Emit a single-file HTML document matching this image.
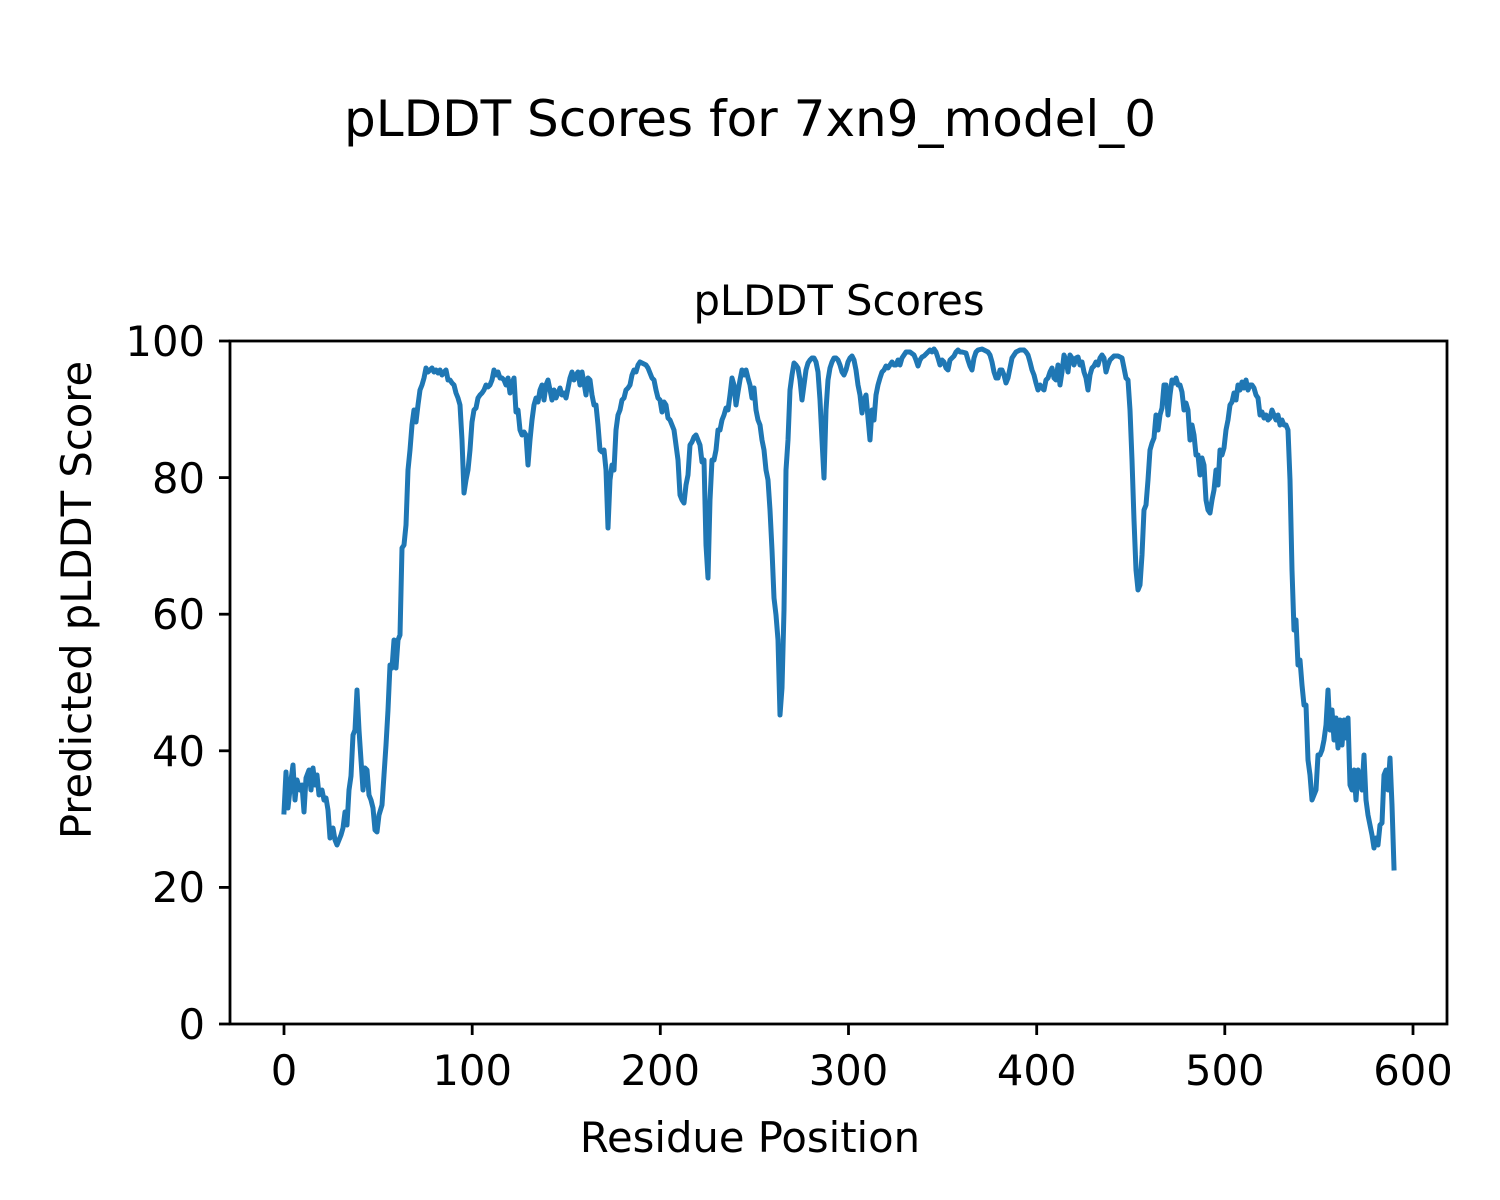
<!DOCTYPE html>
<html><head><meta charset="utf-8"><style>
html,body{margin:0;padding:0;background:#fff;}
svg{display:block;font-family:"DejaVu Sans","Liberation Sans",sans-serif;}
</style></head><body>
<svg width="1500" height="1200" viewBox="0 0 1500 1200" xmlns="http://www.w3.org/2000/svg">
<rect width="1500" height="1200" fill="#fff"/>
<text x="750" y="136" font-size="50" text-anchor="middle">pLDDT Scores for 7xn9_model_0</text>
<text x="839" y="315" font-size="41.7" text-anchor="middle">pLDDT Scores</text>
<polyline fill="none" stroke="#1f77b4" stroke-width="5" stroke-linejoin="round" stroke-linecap="square" points="284,812 286,772 288,808 291,780 293,765 295,800 297,780 300,790 302,785 304,812 306,778 309,770 311,790 313,768 315,785 317,775 319,795 322,790 324,800 326,798 328,810 330,838 333,828 335,840 337,845 339,840 341,835 343,828 345,812 347,825 349,790 351,776 353,735 355,730 357,690 359,730 361,760 363,790 365,768 367,770 369,795 371,800 373,808 375,830 377,832 379,815 382,805 384,775 386,745 388,710 390,665 392,668 394,640 396,668 398,640 400,635 402,548 404,545 406,525 408,470 410,450 412,425 414,410 416,422 418,405 420,390 422,385 424,378 426,368 428,372 430,370 432,368 434,372 436,370 438,373 440,370 442,375 444,372 446,370 448,380 450,380 452,383 454,385 456,393 458,398 460,405 462,440 464,493 466,480 468,470 470,450 472,422 474,410 476,408 478,398 480,395 482,393 484,390 486,385 488,387 490,385 492,380 494,370 496,375 498,372 500,378 502,378 504,380 506,385 508,378 510,393 512,383 514,378 516,412 518,410 520,430 522,435 524,432 526,435 528,465 530,440 532,420 534,405 536,398 538,402 540,390 542,385 544,400 546,385 548,380 550,390 552,400 554,390 556,398 558,393 560,388 562,395 564,393 566,398 568,388 570,378 572,372 574,380 576,375 578,372 580,385 582,372 584,383 586,395 588,378 590,380 592,395 594,405 596,405 598,425 600,450 602,452 604,450 606,470 608,528 610,480 612,465 614,470 616,430 618,415 620,410 622,400 624,398 626,390 628,388 630,385 632,375 634,370 636,372 638,365 640,362 642,363 644,364 646,365 648,368 650,373 652,378 654,380 656,390 658,398 660,400 662,412 664,402 666,405 668,418 670,420 672,425 674,430 676,445 678,460 680,495 682,500 684,503 686,485 688,475 690,445 692,442 694,437 696,435 698,440 700,445 702,462 704,460 706,545 708,578 710,500 712,460 714,460 716,450 718,430 720,430 722,420 724,415 726,408 728,410 730,395 732,378 734,385 736,405 738,392 740,380 742,370 744,375 746,370 748,378 750,385 752,398 754,388 756,410 758,420 760,425 762,440 764,450 766,470 768,480 770,510 772,550 774,598 776,615 778,640 780,715 782,688 784,610 786,470 788,440 790,390 792,375 794,363 796,365 798,368 800,380 802,400 804,385 806,370 808,363 810,360 812,358 814,358 816,362 818,372 820,400 822,440 824,478 826,410 828,380 830,368 832,362 834,358 836,358 838,360 840,365 842,372 844,375 846,370 848,362 850,358 852,356 854,360 856,370 858,385 860,395 862,413 864,400 866,395 868,418 870,440 872,410 874,420 876,395 878,385 880,378 882,372 884,370 886,366 888,368 890,365 892,362 894,365 896,365 898,360 900,365 902,358 904,355 906,352 910,352 914,355 916,360 918,366 920,360 922,357 924,356 926,354 928,352 930,350 932,352 934,349 936,352 938,358 940,365 942,360 944,362 946,368 948,370 950,360 952,358 954,356 956,352 958,350 960,352 962,352 966,353 968,360 970,366 972,370 974,358 976,352 978,350 982,349 986,351 988,352 990,355 992,362 994,372 996,378 998,378 1000,370 1002,370 1004,375 1006,383 1008,378 1010,368 1012,358 1014,355 1016,352 1020,350 1024,350 1026,352 1028,355 1030,362 1032,370 1034,375 1036,383 1038,390 1040,385 1042,388 1044,390 1046,380 1048,378 1050,372 1052,368 1054,378 1056,380 1058,365 1060,385 1062,372 1064,355 1066,360 1068,372 1070,355 1072,358 1074,365 1076,358 1078,357 1080,365 1082,362 1084,372 1086,378 1088,390 1090,375 1092,368 1094,366 1096,362 1098,365 1100,358 1102,355 1104,358 1106,372 1108,365 1110,360 1112,358 1114,356 1118,356 1122,358 1124,368 1126,378 1128,380 1130,410 1132,460 1134,520 1136,570 1138,590 1140,585 1142,555 1144,510 1146,505 1148,480 1150,450 1152,443 1154,438 1156,415 1158,430 1160,415 1162,408 1164,385 1166,385 1168,415 1170,395 1172,380 1174,383 1176,378 1178,385 1180,385 1182,392 1184,410 1186,403 1188,410 1190,440 1192,425 1194,435 1196,455 1198,455 1200,475 1202,458 1204,465 1206,500 1208,510 1210,513 1212,500 1214,490 1216,470 1218,485 1220,450 1222,455 1224,448 1226,430 1228,420 1230,405 1232,402 1234,393 1236,400 1238,385 1240,390 1242,382 1244,388 1246,380 1248,390 1250,385 1252,385 1254,388 1256,395 1258,398 1260,415 1262,412 1264,418 1266,415 1268,420 1270,418 1272,410 1274,415 1276,420 1278,415 1280,425 1282,420 1284,425 1286,425 1288,430 1290,480 1292,570 1294,630 1296,620 1298,665 1300,660 1302,685 1304,705 1306,705 1308,760 1310,775 1312,800 1314,795 1316,790 1318,755 1320,755 1322,750 1324,740 1326,725 1328,690 1330,730 1332,710 1334,740 1336,718 1338,748 1340,720 1342,745 1344,720 1346,738 1348,718 1350,785 1352,790 1354,770 1356,800 1358,770 1360,780 1362,790 1364,755 1366,800 1368,815 1370,825 1372,835 1374,848 1376,838 1378,845 1380,825 1382,823 1384,775 1386,770 1388,790 1390,758 1392,805 1394,868"/>
<rect x="230" y="341" width="1217" height="683" fill="none" stroke="#000" stroke-width="2.8"/>
<g stroke="#000" stroke-width="2.8">
<line x1="284" y1="1024" x2="284" y2="1035"/>
<line x1="472.2" y1="1024" x2="472.2" y2="1035"/>
<line x1="660.3" y1="1024" x2="660.3" y2="1035"/>
<line x1="848.5" y1="1024" x2="848.5" y2="1035"/>
<line x1="1036.7" y1="1024" x2="1036.7" y2="1035"/>
<line x1="1224.8" y1="1024" x2="1224.8" y2="1035"/>
<line x1="1413" y1="1024" x2="1413" y2="1035"/>
<line x1="219" y1="1024" x2="230" y2="1024"/>
<line x1="219" y1="887.4" x2="230" y2="887.4"/>
<line x1="219" y1="750.8" x2="230" y2="750.8"/>
<line x1="219" y1="614.2" x2="230" y2="614.2"/>
<line x1="219" y1="477.6" x2="230" y2="477.6"/>
<line x1="219" y1="341" x2="230" y2="341"/>
</g>
<g font-size="41.7" text-anchor="middle">
<text x="284" y="1085">0</text>
<text x="472.2" y="1085">100</text>
<text x="660.3" y="1085">200</text>
<text x="848.5" y="1085">300</text>
<text x="1036.7" y="1085">400</text>
<text x="1224.8" y="1085">500</text>
<text x="1413" y="1085">600</text>
</g>
<g font-size="41.7" text-anchor="end">
<text x="205" y="1039">0</text>
<text x="205" y="902">20</text>
<text x="205" y="766">40</text>
<text x="205" y="629">60</text>
<text x="205" y="493">80</text>
<text x="205" y="356">100</text>
</g>
<text x="750" y="1152" font-size="41.7" text-anchor="middle">Residue Position</text>
<text transform="translate(91,600) rotate(-90)" font-size="41.7" text-anchor="middle">Predicted pLDDT Score</text>
</svg>
</body></html>
